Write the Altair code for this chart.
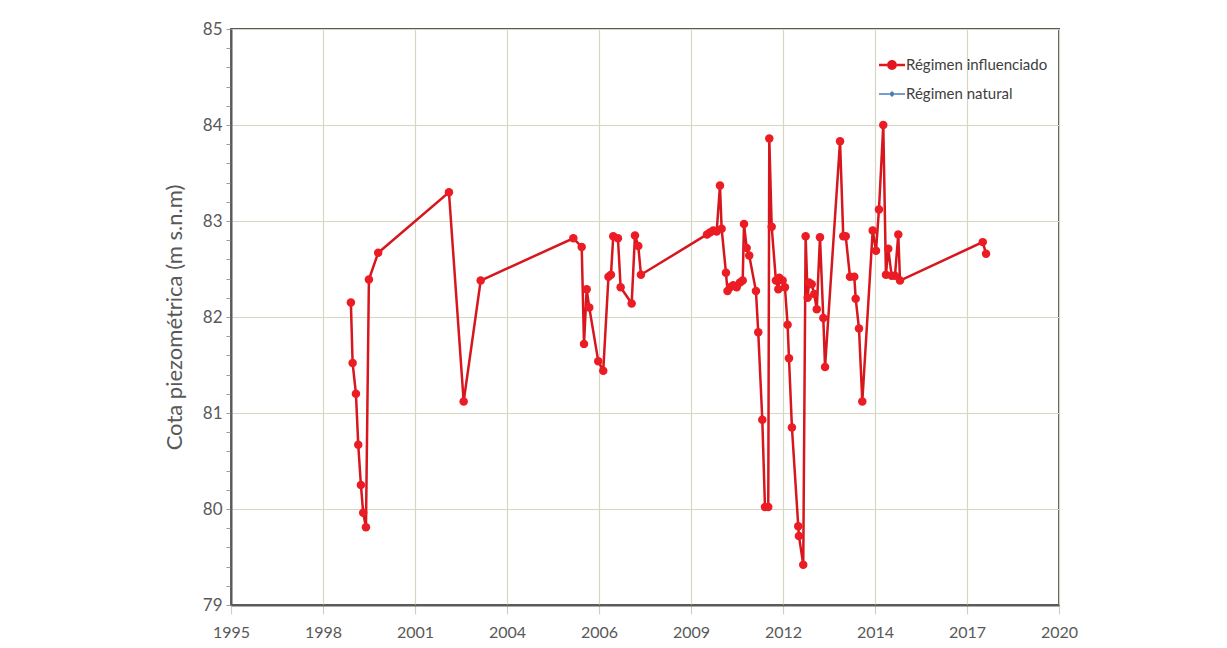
import altair as alt
import pandas as pd

# ---- data ----
fechas = [
    "1999-05-23", "1999-06-11", "1999-07-17", "1999-08-11", "1999-09-09", "1999-10-04",
    "1999-11-03", "1999-12-05", "2000-03-15",
    "2002-04-23", "2002-09-30", "2003-04-03",
    "2006-01-04", "2006-04-05", "2006-04-30", "2006-05-29", "2006-06-26", "2006-10-02", "2006-11-25",
    "2007-01-21", "2007-02-17", "2007-03-14", "2007-05-04", "2007-06-02", "2007-09-30",
    "2007-11-05", "2007-12-11", "2008-01-09",
    "2009-12-27", "2010-01-28", "2010-03-05", "2010-04-11", "2010-05-17", "2010-06-04",
    "2010-07-21", "2010-08-07", "2010-09-03", "2010-10-08", "2010-11-15", "2010-12-20",
    "2011-01-19", "2011-02-02", "2011-03-03", "2011-03-31", "2011-06-12", "2011-07-07",
    "2011-08-20", "2011-09-18", "2011-10-24", "2011-11-04", "2011-11-30",
    "2012-01-15", "2012-02-10", "2012-02-20", "2012-03-28", "2012-04-22", "2012-05-21",
    "2012-06-05", "2012-07-07", "2012-09-14", "2012-09-21", "2012-11-07", "2012-12-03", "2012-12-25",
    "2013-01-09", "2013-02-07", "2013-03-07", "2013-04-03", "2013-05-08", "2013-06-13",
    "2013-07-02", "2013-12-12",
    "2014-01-16", "2014-02-12", "2014-03-30", "2014-05-16", "2014-05-31", "2014-07-06",
    "2014-08-11", "2014-12-02",
    "2015-01-07", "2015-02-08", "2015-03-27", "2015-04-25", "2015-05-20", "2015-06-26",
    "2015-08-01", "2015-09-06", "2015-09-25",
    "2018-03-12", "2018-04-17",
]
cotas = [
    82.15, 81.52, 81.20, 80.67, 80.25, 79.96,
    79.81, 82.39, 82.67,
    83.30, 81.12, 82.38,
    82.82, 82.73, 81.72, 82.29, 82.10, 81.54, 81.44,
    82.42, 82.44, 82.84, 82.82, 82.31, 82.14,
    82.85, 82.74, 82.44,
    82.86, 82.88, 82.90, 82.89, 83.37, 82.92,
    82.46, 82.27, 82.31, 82.33, 82.31, 82.36,
    82.38, 82.97, 82.72, 82.64, 82.27, 81.84,
    80.93, 80.02, 80.02, 83.86, 82.94,
    82.38, 82.29, 82.41, 82.38, 82.31, 81.92,
    81.57, 80.85, 79.82, 79.72, 79.42, 82.84, 82.20,
    82.36, 82.34, 82.24, 82.08, 82.83, 81.99,
    81.48, 83.83,
    82.84, 82.84, 82.42, 82.42, 82.19, 81.88,
    81.12, 82.90,
    82.69, 83.12, 84.00, 82.44, 82.71, 82.43,
    82.43, 82.86, 82.38,
    82.78, 82.66,
]
series = ["Régimen influenciado", "Régimen natural"]
series_colors = ["#e3141b", "#4a7ebb"]

# Excel-style date axis: one tick every 1000 days, labelled with the year
x_domain = ["1995-10-28", "2020-06-18"]
x_ticks = ["1995-10-28", "1998-07-24", "2001-04-19", "2004-01-14", "2006-10-10",
           "2009-07-07", "2012-04-02", "2014-12-27", "2017-09-22", "2020-06-18"]
y_domain = [79, 85]
y_ticks = [round(79 + 0.2 * i, 1) for i in range(31)]

y_title = "Cota piezométrica (m s.n.m)"

# ---- chart ----
def dt(s):
    y, m, d = (int(v) for v in s.split("-"))
    return alt.DateTime(year=y, month=m, date=d, utc=True)

df = pd.DataFrame({"fecha": fechas, "cota": cotas})
legend_df = pd.DataFrame({"serie": series})

FONT = "Lato"
GRID = "#d6d6c2"
AXIS = "#5a5a5a"

x_enc = alt.X(
    "fecha:T",
    scale=alt.Scale(type="utc", domain=[dt(x_domain[0]), dt(x_domain[1])]),
    axis=alt.Axis(
        values=[dt(s) for s in x_ticks],
        labelExpr="utcFormat(datum.value, '%Y')", title=None,
        grid=True, gridColor=GRID, gridWidth=1.2,
        domainColor=AXIS, domainWidth=2,
        tickColor="#d0d0c4", tickSize=9, tickWidth=1.2,
        labelFont=FONT, labelFontSize=16, labelColor="#595959", labelPadding=10,
        labelFlush=False,
    ),
)
y_enc = alt.Y(
    "cota:Q",
    scale=alt.Scale(domain=y_domain, nice=False, zero=False),
    axis=alt.Axis(
        values=y_ticks,
        labelExpr="datum.value % 1 === 0 ? format(datum.value, 'd') : ''",
        title=y_title, titleFont=FONT, titleFontSize=22, titleFontWeight="normal",
        titleColor="#595959", titlePadding=16,
        grid=True, gridColor=GRID, gridWidth=1.2,
        gridOpacity={"condition": {"test": "datum.value % 1 !== 0", "value": 0}, "value": 1},
        domainColor=AXIS, domainWidth=2,
        tickColor="#9a9a9a", tickSize=5, tickWidth=1,
        labelFont=FONT, labelFontSize=17, labelColor="#595959", labelPadding=4,
        labelFlush=False,
    ),
)

line = alt.Chart(df).mark_line(color="#d7161d", strokeWidth=2.5).encode(x=x_enc, y=y_enc)
points = alt.Chart(df).mark_circle(color="#ec1c24", size=72, opacity=1).encode(x=x_enc, y=y_enc)

shape_red = ("M-1,-0.1H-0.38V0.1H-1Z M0.38,-0.1H1V0.1H0.38Z "
             "M-0.38,0A0.38,0.38 0 1,1 0.38,0A0.38,0.38 0 1,1 -0.38,0Z")
shape_blue = ("M-1,-0.06H-0.22V0.06H-1Z M0.22,-0.06H1V0.06H0.22Z "
              "M0,-0.24L0.24,0L0,0.24L-0.24,0Z")

leg = alt.Legend(
    title=None, orient="none", legendX=648, legendY=23,
    symbolSize=676, symbolOpacity=1, symbolStrokeWidth=0,
    labelFont=FONT, labelFontSize=15, labelColor="#404040",
    labelOffset=1, rowPadding=8,
)
legend_layer = alt.Chart(legend_df).mark_point(filled=True, opacity=0).encode(
    color=alt.Color("serie:N", scale=alt.Scale(domain=series, range=series_colors), legend=leg),
    shape=alt.Shape("serie:N", scale=alt.Scale(domain=series, range=[shape_red, shape_blue]), legend=leg),
)

chart = (
    alt.layer(line, points, legend_layer)
    .properties(width=828, height=576,
                padding={"left": 155, "top": 12, "right": 10, "bottom": 5},
                background="white")
    .configure_view(stroke=AXIS, strokeWidth=2)
)

chart.save("out.html", embed_options={"renderer": "svg", "actions": False})
